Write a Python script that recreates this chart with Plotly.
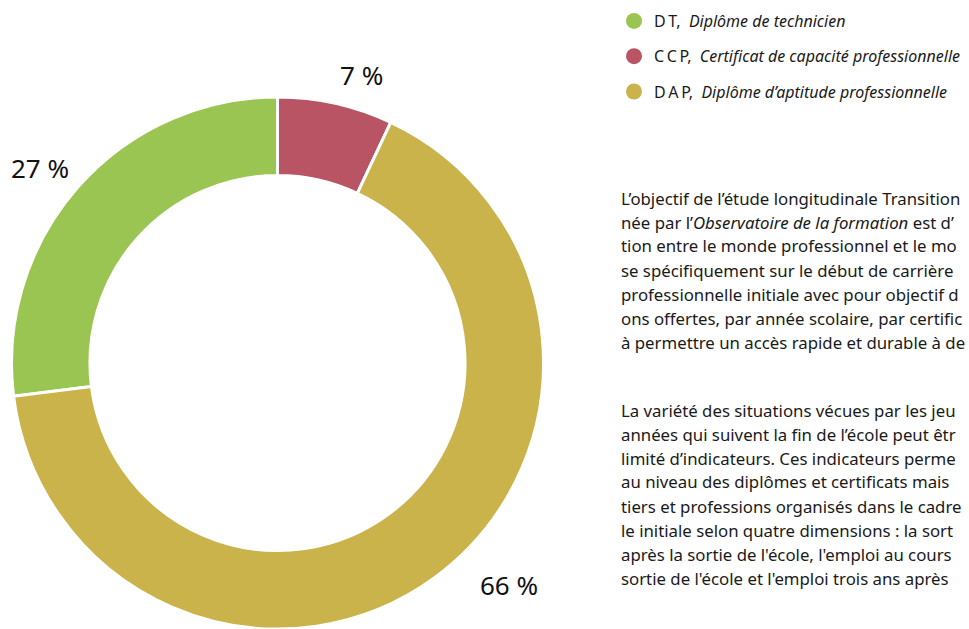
import plotly.graph_objects as go

W, H = 969, 629

# ---- data ----
codes = ["DT", "CCP", "DAP"]
names = ["Diplôme de technicien", "Certificat de capacité professionnelle", "Diplôme d’aptitude professionnelle"]
values = [27, 7, 66]
colors = ["#9BC552", "#B85463", "#CAB34A"]

para1 = [
    "L’objectif de l’étude longitudinale Transition",
    "née par l’<i>Observatoire de la formation</i> est d’",
    "tion entre le monde professionnel et le mo",
    "se spécifiquement sur le début de carrière",
    "professionnelle initiale avec pour objectif d",
    "ons offertes, par année scolaire, par certific",
    "à permettre un accès rapide et durable à de",
]
para2 = [
    "La variété des situations vécues par les jeu",
    "années qui suivent la fin de l’école peut êtr",
    "limité d’indicateurs. Ces indicateurs perme",
    "au niveau des diplômes et certificats mais",
    "tiers et professions organisés dans le cadre",
    "le initiale selon quatre dimensions : la sort",
    "après la sortie de l'école, l'emploi au cours",
    "sortie de l'école et l'emploi trois ans après",
]

FONT = "Noto Sans"
TXT = "#1a1a1a"

fig = go.Figure()

# donut
cx, cy, r = 277.5, 363, 266
fig.add_trace(go.Pie(
    labels=codes, values=values, sort=False, direction="clockwise",
    rotation=-360 * values[0] / sum(values),
    hole=0.705,
    marker=dict(colors=colors, line=dict(color="white", width=3)),
    textinfo="none", hoverinfo="label+percent", showlegend=False,
    domain=dict(x=[(cx - r) / W, (cx + r) / W], y=[max(0, (H - cy - r) / H), (H - cy + r) / H]),
))

# legend entries (circle markers)
def spaced(s):
    return "\u2009".join(s)

for c, n, col in zip(codes, names, colors):
    fig.add_trace(go.Scatter(
        x=[None], y=[None], mode="markers",
        marker=dict(symbol="circle", size=17, color=col),
        name=f"{spaced(c)},  <i>{n}</i>", legendgroup=c, showlegend=True,
    ))

fig.update_layout(
    width=W, height=H, margin=dict(l=0, r=0, t=0, b=0),
    paper_bgcolor="white", plot_bgcolor="white",
    xaxis=dict(visible=False), yaxis=dict(visible=False),
    legend=dict(x=614 / W, y=1 - 4 / H, xanchor="left", yanchor="top",
                font=dict(family=FONT, size=16, color=TXT),
                tracegroupgap=11.5, itemwidth=30, bgcolor="rgba(0,0,0,0)"),
    font=dict(family=FONT),
)

# percentage labels
label_pos = [(40, 168), (361, 75), (509, 585)]
for v, (px, py) in zip(values, label_pos):
    fig.add_annotation(x=px / W, y=1 - py / H, xref="paper", yref="paper",
                       text=f"{v} %", showarrow=False,
                       font=dict(family=FONT, size=26, color="#111111"),
                       xanchor="center", yanchor="middle")

# paragraphs
X0 = 619
def add_para(lines, top):
    for i, ln in enumerate(lines):
        fig.add_annotation(x=X0 / W, y=1 - (top + 24 * i) / H, xref="paper", yref="paper",
                           text=ln, showarrow=False, xanchor="left", yanchor="middle",
                           width=W - X0, align="left",
                           font=dict(family=FONT, size=16.8, color=TXT))

add_para(para1, 198)
add_para(para2, 410)

fig.write_html("out.html")
